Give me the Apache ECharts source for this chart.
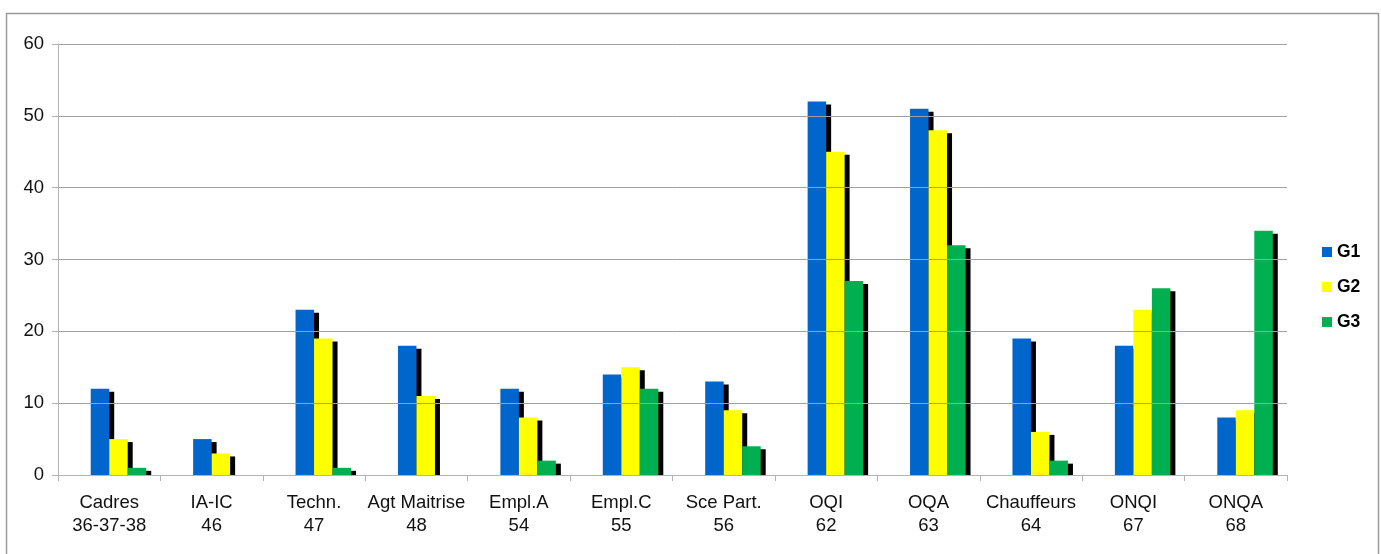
<!DOCTYPE html>
<html>
<head>
<meta charset="utf-8">
<script src="https://cdn.jsdelivr.net/npm/echarts@6/dist/echarts.min.js"></script>
<style>
  html, body { margin: 0; padding: 0; background: #fff; }
  #chart { width: 1381px; height: 554px; }
</style>
</head>
<body>
<div id="chart"></div>
<script>
// Staff counts per job category, three groups
const categories = [
  'Cadres\n36-37-38', 'IA-IC\n46', 'Techn.\n47', 'Agt Maitrise\n48',
  'Empl.A\n54', 'Empl.C\n55', 'Sce Part.\n56', 'OQI\n62', 'OQA\n63',
  'Chauffeurs\n64', 'ONQI\n67', 'ONQA\n68'
];
const g1 = [12, 5, 23, 18, 12, 14, 13, 52, 51, 19, 18, 8];
const g2 = [5, 3, 19, 11, 8, 15, 9, 45, 48, 6, 23, 9];
const g3 = [1, 0, 1, 0, 2, 12, 4, 27, 32, 2, 26, 34];
const yTicks = { min: 0, max: 60, interval: 10 };

const FONT = '"Liberation Sans", Arial, sans-serif';
const BAR_W = 18.5;

function barSeries(name, data, color) {
  return {
    name: name,
    type: 'bar',
    z: 2,
    data: data.map(v => (v === 0 ? null : v)),
    barWidth: BAR_W,
    barGap: '0%',
    itemStyle: {
      color: color,
      borderWidth: 0,
      shadowColor: '#000',
      shadowBlur: 0,
      shadowOffsetX: 5,
      shadowOffsetY: 3
    },
    emphasis: { disabled: true }
  };
}

const chart = echarts.init(document.getElementById('chart'), null, { renderer: 'canvas' });
chart.setOption({
  animation: false,
  backgroundColor: '#fff',
  textStyle: { fontFamily: FONT },
  graphic: [
    {
      type: 'rect',
      silent: true,
      z: -10,
      shape: { x: 6.5, y: 13.5, width: 1372, height: 600 },
      style: { fill: 'none', stroke: '#9a9a9a', lineWidth: 1.5 }
    },
    {
      // keeps the bar shadows from running below the category axis
      type: 'rect',
      silent: true,
      z: 5,
      shape: { x: 59, y: 475.5, width: 1236, height: 5 },
      style: { fill: '#fff' }
    }
  ],
  grid: { left: 58, right: 94, top: 44, bottom: 79, containLabel: false },
  legend: {
    orient: 'vertical',
    left: 1317,
    top: 238,
    data: ['G1', 'G2', 'G3'],
    icon: 'rect',
    itemWidth: 10,
    itemHeight: 10,
    itemGap: 17,
    selectedMode: false,
    itemStyle: { shadowColor: 'transparent', shadowBlur: 0, shadowOffsetX: 0, shadowOffsetY: 0, borderWidth: 0 },
    textStyle: { fontFamily: FONT, fontSize: 17.5, fontWeight: 'bold', color: '#000' }
  },
  xAxis: {
    type: 'category',
    z: 10,
    data: categories,
    axisLine: { lineStyle: { color: '#b3b3b3', width: 1 } },
    axisTick: { show: true, length: 6, lineStyle: { color: '#b3b3b3' } },
    axisLabel: {
      interval: 0,
      margin: 16,
      color: '#111',
      fontFamily: FONT,
      fontSize: 18.5,
      lineHeight: 23
    },
    splitLine: { show: false }
  },
  yAxis: {
    type: 'value',
    z: 10,
    min: yTicks.min,
    max: yTicks.max,
    interval: yTicks.interval,
    axisLine: { show: true, lineStyle: { color: '#b3b3b3', width: 1 } },
    axisTick: { show: true, length: 6, lineStyle: { color: '#b3b3b3' } },
    axisLabel: { margin: 14, color: '#111', fontFamily: FONT, fontSize: 18.5 },
    splitLine: { show: true, lineStyle: { color: '#a0a0a0', width: 1 } }
  },
  series: [
    // empty slot that leaves the gap to the left of each bar group
    { name: 'spacer', type: 'bar', data: categories.map(() => null), barWidth: BAR_W, barGap: '0%', silent: true },
    barSeries('G1', g1, '#0066cc'),
    barSeries('G2', g2, '#ffff00'),
    barSeries('G3', g3, '#00b050')
  ]
});
</script>
</body>
</html>
